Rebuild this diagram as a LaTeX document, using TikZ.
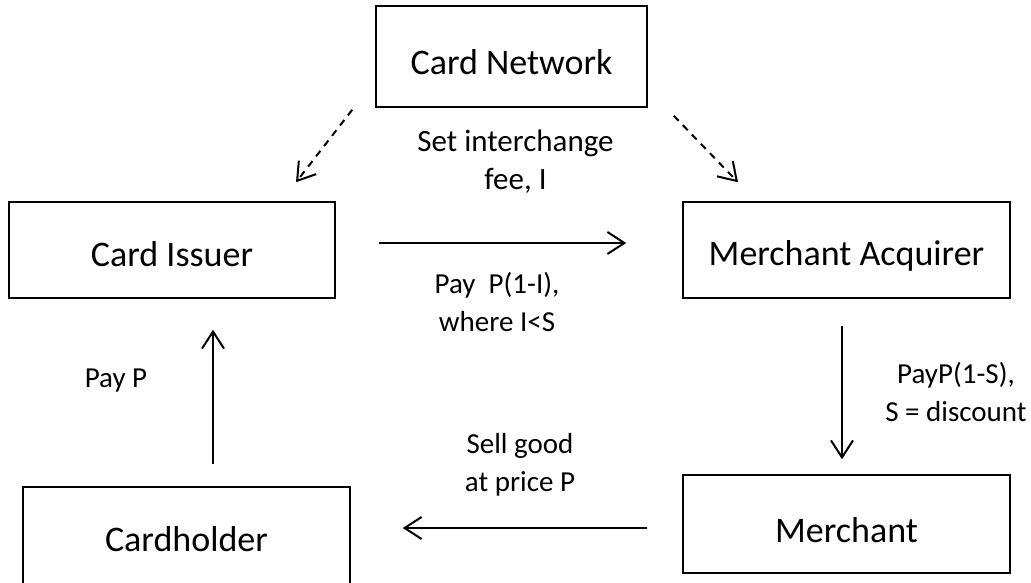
\documentclass[tikz,border=0pt]{standalone}
\usepackage{fontspec}
\setmainfont{Carlito}
\usetikzlibrary{arrows.meta,calc}
\tikzset{
  box/.style={draw=black, line width=1.5pt, inner sep=0pt, text depth=0pt, font=\fontsize{36}{44}\selectfont},
  lbl/.style={align=center, inner sep=0pt, font=\fontsize{29}{38}\selectfont},
  arr/.style={line width=2pt, -{Straight Barb[length=17pt,width=22pt,line width=2pt]}},
  darr/.style={arr, dash pattern=on 7pt off 6pt},
}
\begin{document}
\begin{tikzpicture}[x=1pt,y=-1pt]
\useasboundingbox (0,0) rectangle (1031,583);
\clip (0,0) rectangle (1031,583);
\node[box, text height=37pt, minimum width=271pt, minimum height=101pt] (net) at (511.5,56.5) {Card Network};
\node[box, text height=33pt, minimum width=326pt, minimum height=96pt] (iss) at (172,250) {Card Issuer};
\node[box, text height=31pt, minimum width=327pt, minimum height=96pt] (acq) at (846.5,250) {Merchant Acquirer};
\node[box, text height=37pt, minimum width=327pt, minimum height=98pt] (mer) at (846.5,524) {Merchant};
\node[box, text height=31pt, minimum width=327pt, minimum height=98pt] (ch) at (186.5,536) {Cardholder};

\draw[darr] ($(net.south west)+(-23,2)$) -- ($(iss.north)+(124,-19)$);
\draw[darr] ($(net.south east)+(26,8)$) -- ($(acq.north)+(-108.5,-19)$);
\draw[arr, shorten <=43pt, shorten >=56pt] (iss.east |- 0,243) -- (acq.west |- 0,243);
\draw[arr, shorten <=27pt, shorten >=15pt] (acq.south -| 842,0) -- (mer.north -| 842,0);
\draw[arr, shorten <=35pt, shorten >=52pt] (mer.west |- 0,528) -- (ch.east |- 0,528);
\draw[arr, shorten <=22pt, shorten >=31pt] (ch.north -| 213,0) -- (iss.south -| 213,0);

\node[lbl, font=\fontsize{31}{38}\selectfont] (fee) at (515.5,162) {Set interchange\\fee, I};
\node[lbl] (pay1) at (497,302) {Pay\ \ P(1-I),\\where I<S};
\node[lbl] (payp) at (116,381) {Pay P};
\node[lbl] (pays) at (956,392) {PayP(1-S),\\S = discount};
\node[lbl] (sell) at (520,465) {Sell good\\at price P};
\end{tikzpicture}
\end{document}
